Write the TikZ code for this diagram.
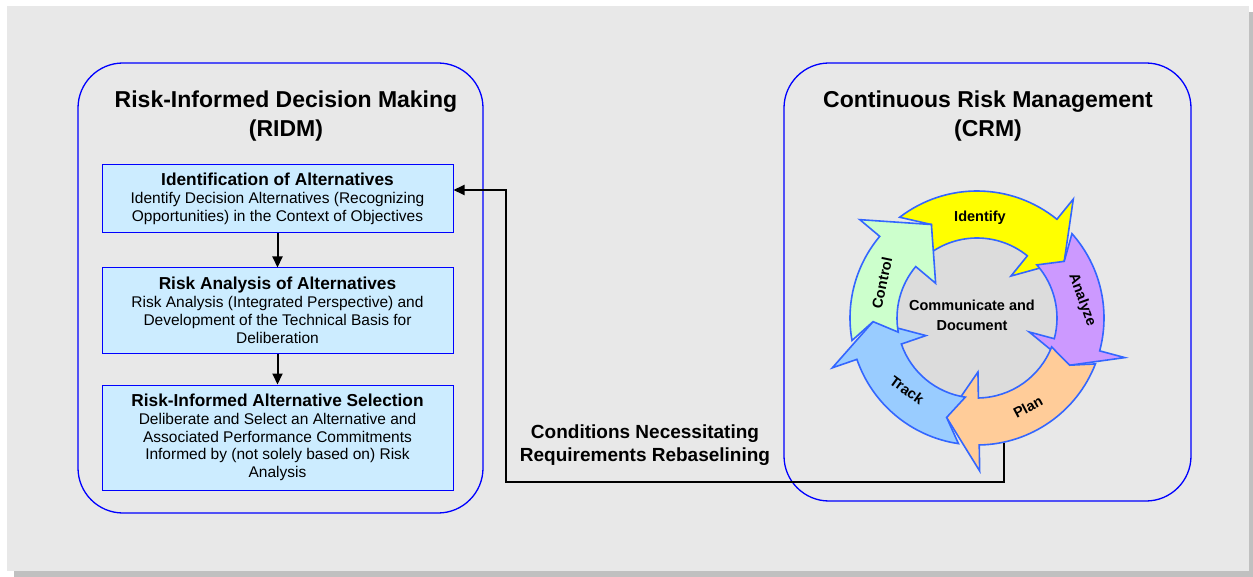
\documentclass[tikz,border=0pt]{standalone}
\usepackage{fontspec}
\setmainfont{Liberation Sans}
\usetikzlibrary{arrows.meta}
\definecolor{bggray}{HTML}{E8E8E8}
\definecolor{shadowgray}{HTML}{C0C0C0}
\definecolor{boxfill}{HTML}{CCECFF}
\definecolor{ringblue}{HTML}{3366FF}
\definecolor{diskgray}{HTML}{DCDCDC}
\definecolor{segyellow}{HTML}{FFFF00}
\definecolor{segpurple}{HTML}{CC99FF}
\definecolor{segorange}{HTML}{FFCC99}
\definecolor{segblue}{HTML}{99CCFF}
\definecolor{seggreen}{HTML}{CCFFCC}
\newcommand{\crmarrow}[5]{%
  \filldraw[arrowseg, fill=#1] (#2:127) arc[start angle=#2, end angle=#3, radius=127]
    -- (#3:153) -- (#4:104) -- (#3:54) -- (#3:80)
    arc[start angle=#3, end angle=#2, radius=80] -- (#5:104) -- cycle;}
\begin{document}
\begin{tikzpicture}[x=1pt,y=-1pt,
  panel/.style={draw=blue, line width=1.3pt, rounded corners=45pt, inner sep=0pt},
  paneltitle/.style={font=\bfseries\fontsize{23}{29}\selectfont, align=center, inner sep=0pt},
  altbox/.style={draw=blue, line width=1pt, fill=boxfill, minimum width=351pt, align=center, inner sep=0pt,
     font=\fontsize{15.5}{17.8}\selectfont},
  flow/.style={draw=black, line width=2pt, -{Triangle[length=11pt,width=10pt]}},
  shadowline/.style={draw=shadowgray, line width=2pt},
  arrowseg/.style={draw=ringblue, line width=1.6pt, line join=miter},
  seglabel/.style={font=\bfseries\fontsize{14.5}{16}\selectfont, inner sep=0pt},
  condlabel/.style={font=\bfseries\fontsize{19}{23}\selectfont, align=center, inner sep=0pt}
]
\useasboundingbox (0,0) rectangle (1253,577);
\fill[white] (0,0) rectangle (1253,577);
\fill[shadowgray] (14,12) rectangle (1253,577);
\fill[bggray] (7,6) rectangle (1249,571);

% panels
\node[panel, minimum width=405pt, minimum height=450pt] (ridm) at (280.5,288) {};
\node[panel, minimum width=407pt, minimum height=438pt] (crm) at (987.5,282) {};
\node[paneltitle] (ridmtitle) at (286,116) {Risk-Informed Decision Making\\(RIDM)};
\node[paneltitle] (crmtitle) at (988,116) {Continuous Risk Management\\(CRM)};

% RIDM boxes
\node[altbox, minimum height=68pt] (alt1) at (277.5,199)
  {{\bfseries\fontsize{17.3}{19}\selectfont Identification of Alternatives}\\
   Identify Decision Alternatives (Recognizing\\Opportunities) in the Context of Objectives};
\node[altbox, minimum height=85pt] (alt2) at (277.5,310.5)
  {{\bfseries\fontsize{17.3}{19}\selectfont Risk Analysis of Alternatives}\\
   Risk Analysis (Integrated Perspective) and\\Development of the Technical Basis for\\Deliberation};
\node[altbox, minimum height=105pt] (alt3) at (277.5,437.5)
  {{\bfseries\fontsize{17.3}{19}\selectfont Risk-Informed Alternative Selection}\\
   Deliberate and Select an Alternative and\\Associated Performance Commitments\\Informed by (not solely based on) Risk\\Analysis};
\draw[flow] (alt1) -- (alt2);
\draw[flow] (alt2) -- (alt3);

% CRM cycle
\begin{scope}[shift={(977,318)}, yscale=-1]
  \fill[diskgray] (0,0) circle[radius=80];
  \crmarrow{segyellow}{127.5}{51}{33}{116}
  \crmarrow{segpurple}{41.6}{-15}{-27}{33}
  \crmarrow{segorange}{-21.2}{-89}{-107}{-27}
  \crmarrow{segblue}{-98.4}{-161}{-178}{-107}
  \crmarrow{seggreen}{190.2}{140}{116}{182}
  \node[seglabel] (lident) at (3,100) {Identify};
  \node[seglabel, rotate=-70] (lanal) at (105,18) {Analyze};
  \node[seglabel, rotate=28] (lplan) at (51,-89) {Plan};
  \node[seglabel, rotate=-36] (ltrack) at (-70,-72) {Track};
  \node[seglabel, rotate=78] (lctrl) at (-95,35) {Control};
  \node[seglabel, align=center, font=\bfseries\fontsize{14.5}{20}\selectfont] (lcomm) at (-5,3) {Communicate and\\Document};
\end{scope}

% feedback connector
\coordinate (crmout) at (1004,443);
\coordinate (cornerR) at (1004,482);
\coordinate (cornerL) at (506,482);
\coordinate (cornerT) at (506,190);
\coordinate (alt1in) at ([yshift=9pt]alt1.east);
\draw[shadowline, xshift=2pt, yshift=-2pt] (crmout) -- (cornerR) -- (cornerL) -- (cornerT) -- ([xshift=12pt]alt1in);
\draw[flow] (crmout) -- (cornerR) -- (cornerL) -- (cornerT) -- (alt1in);
\node[condlabel] (cond) at (645,445) {Conditions Necessitating\\Requirements Rebaselining};
\end{tikzpicture}
\end{document}
